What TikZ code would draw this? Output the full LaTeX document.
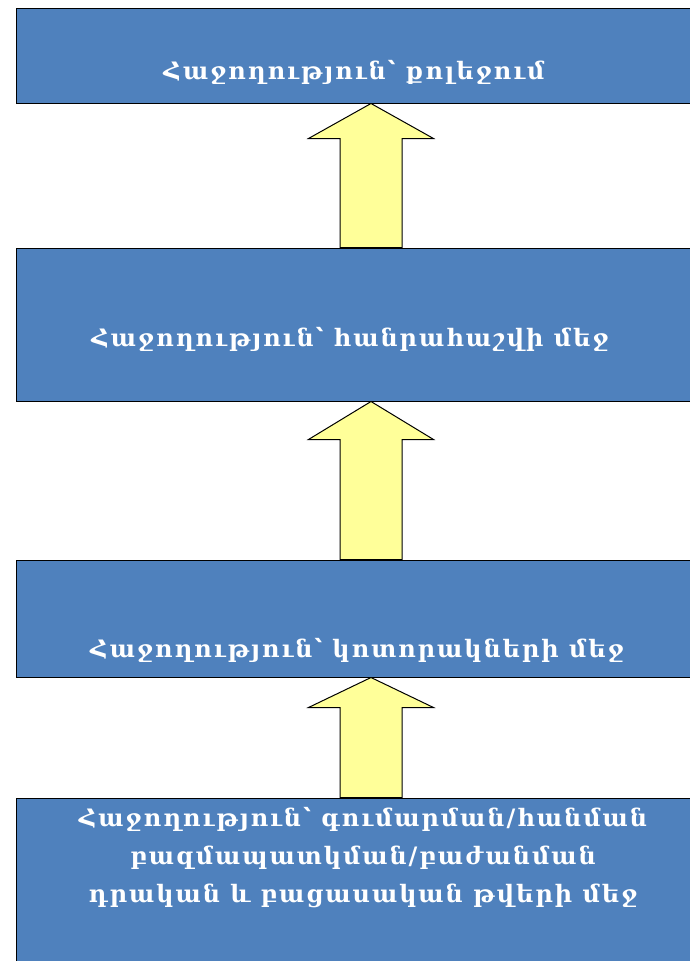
\documentclass[tikz,border=0pt]{standalone}
\usepackage{fontspec}
\newfontfamily\armfont[LetterSpace=8]{DejaVu Serif}
\usetikzlibrary{calc}
\definecolor{boxblue}{HTML}{4F81BD}
\definecolor{arrowyellow}{HTML}{FFFF99}
\begin{document}
\begin{tikzpicture}[x=1pt,y=-1pt,
  stagebox/.style={draw=black, line width=1pt, fill=boxblue, rectangle, inner sep=0pt},
  stagetext/.style={text=white, font=\armfont\bfseries\fontsize{24}{38}\selectfont, align=center, inner sep=0pt},
  uparrow/.style={draw=black, line width=1pt, fill=arrowyellow, line join=miter}]
\useasboundingbox (0,0) rectangle (689,961);
\node[stagebox, minimum width=704pt, minimum height=95pt] (b1) at (368,55.5) {};
\node[stagebox, minimum width=704pt, minimum height=153pt] (b2) at (368,324.5) {};
\node[stagebox, minimum width=704pt, minimum height=117pt] (b3) at (368,618.5) {};
\node[stagebox, minimum width=704pt, minimum height=182pt] (b4) at (368,889) {};
\coordinate (ax) at (371,0);
\newcommand\blockarrow[3]{%
  \coordinate (tipc) at (#2.south -| ax);
  \coordinate (basec) at (#1.north -| ax);
  \draw[uparrow] ([xshift=-31pt]basec) -- ([xshift=-31pt,yshift=-#3]tipc)
    -- ([xshift=-62.5pt,yshift=-#3]tipc) -- (tipc)
    -- ([xshift=62.5pt,yshift=-#3]tipc) -- ([xshift=31pt,yshift=-#3]tipc)
    -- ([xshift=31pt]basec) -- cycle;}
\blockarrow{b2}{b1}{35pt}
\blockarrow{b3}{b2}{38pt}
\blockarrow{b4}{b3}{30pt}
\node[stagetext] (t1) at (354,72) {Հաջողություն՝ քոլեջում};
\node[stagetext] (t2) at (350,339) {Հաջողություն՝ հանրահաշվի մեջ};
\node[stagetext] (t3) at (357,650) {Հաջողություն՝ կոտորակների մեջ};
\node[stagetext] (t4) at (363,858) {Հաջողություն՝ գումարման/հանման\\բազմապատկման/բաժանման\\դրական և բացասական թվերի մեջ};
\end{tikzpicture}
\end{document}
